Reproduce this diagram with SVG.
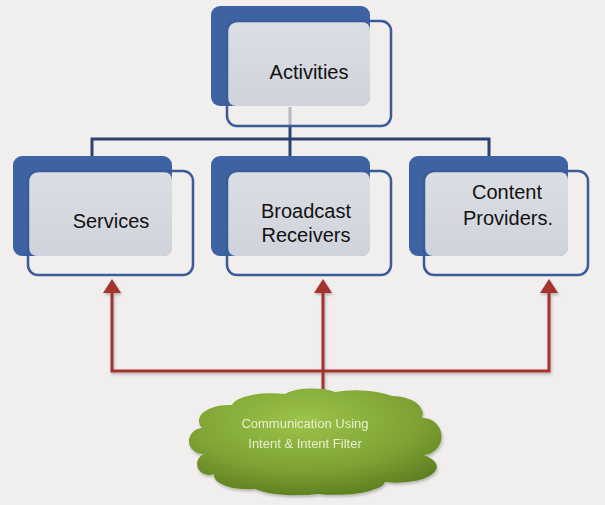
<svg xmlns="http://www.w3.org/2000/svg" width="605" height="505" viewBox="0 0 605 505">
<defs>
<linearGradient id="lg" x1="0" y1="0" x2="0" y2="1"><stop offset="0" stop-color="#dcdee5"/><stop offset="1" stop-color="#d0d3db"/></linearGradient>
<radialGradient id="cg" cx="0.45" cy="0.3" r="0.75"><stop offset="0" stop-color="#9cc34a"/><stop offset="0.6" stop-color="#7ea334"/><stop offset="1" stop-color="#5a7b1f"/></radialGradient>
<filter id="sh" x="-10%" y="-10%" width="130%" height="130%"><feGaussianBlur in="SourceAlpha" stdDeviation="1.5"/><feOffset dx="1" dy="2"/><feComponentTransfer><feFuncA type="linear" slope="0.25"/></feComponentTransfer><feMerge><feMergeNode/><feMergeNode in="SourceGraphic"/></feMerge></filter>
</defs>
<style>
.dark{fill:#3e63a2}
.light{fill:url(#lg)}
.out{fill:none;stroke:#3b5c98;stroke-width:2.5}
.lbl{font-family:"Liberation Sans",Arial,sans-serif;font-size:20px;fill:#111;text-anchor:middle}
.tree{fill:none;stroke:#2d4270;stroke-width:3}
.red{fill:none;stroke:#a5332f;stroke-width:3}
.head{fill:#a5332f}
.ct{font-family:"Liberation Sans",Arial,sans-serif;font-size:13px;fill:#e6efcf;text-anchor:middle}
</style>
<rect width="605" height="505" fill="#f0efed"/>
<g id="connectors">
<line x1="290" y1="107" x2="290" y2="126" stroke="#b5b8c2" stroke-width="3"/>
<line class="tree" x1="290" y1="126" x2="290" y2="139"/>
<polyline class="tree" points="92,156 92,139 489,139 489,156"/>
<line class="tree" x1="290" y1="139" x2="290" y2="156"/>
<g filter="url(#sh)">
<polyline class="red" points="112,290 112,371 549,371 549,290"/>
<line class="red" x1="323" y1="290" x2="323" y2="400"/>
<polygon class="head" points="112,279 121,293 103,293"/>
<polygon class="head" points="323,279 332,293 314,293"/>
<polygon class="head" points="549,279 558,293 540,293"/>
</g>
</g>
<g id="node-activities">
<rect class="dark" x="211" y="6" width="159" height="100" rx="9"/>
<rect class="light" x="228" y="22" width="142" height="84" rx="8"/>
<rect class="out" x="227" y="21" width="164" height="105" rx="10"/>
<text class="lbl" x="309" y="79">Activities</text>
</g>
<g id="node-services">
<rect class="dark" x="13" y="156" width="159" height="100" rx="9"/>
<rect class="light" x="29" y="172" width="143" height="84" rx="8"/>
<rect class="out" x="28" y="171" width="165" height="104" rx="10"/>
<text class="lbl" x="111" y="228">Services</text>
</g>
<g id="node-broadcast">
<rect class="dark" x="211" y="156" width="159" height="100" rx="9"/>
<rect class="light" x="228" y="172" width="142" height="84" rx="8"/>
<rect class="out" x="227" y="171" width="164" height="104" rx="10"/>
<text class="lbl" x="306" y="218">Broadcast</text>
<text class="lbl" x="306" y="242">Receivers</text>
</g>
<g id="node-content">
<rect class="dark" x="409" y="156" width="159" height="100" rx="9"/>
<rect class="light" x="425" y="172" width="143" height="84" rx="8"/>
<rect class="out" x="424" y="171" width="164" height="104" rx="10"/>
<text class="lbl" x="507" y="199">Content</text>
<text class="lbl" x="508" y="225">Providers.</text>
</g>
<g id="node-cloud" filter="url(#sh)">
<path fill="url(#cg)" d="M204,454 A14,13 0 0 1 202,428 A30,16 0 0 1 232,405 A40,14 0 0 1 285,394 A30,10 0 0 1 335,392 A45,14 0 0 1 392,396 A30,18 0 0 1 422,418 A18,18 0 0 1 424,455 A40,16 0 0 1 385,482 A50,14 0 0 1 318,494 A50,14 0 0 1 255,489 A34,14 0 0 1 214,474 A12,11 0 0 1 204,454 Z"/>
<text class="ct" x="305" y="428">Communication Using</text>
<text class="ct" x="305" y="448">Intent &amp; Intent Filter</text>
</g>
</svg>
